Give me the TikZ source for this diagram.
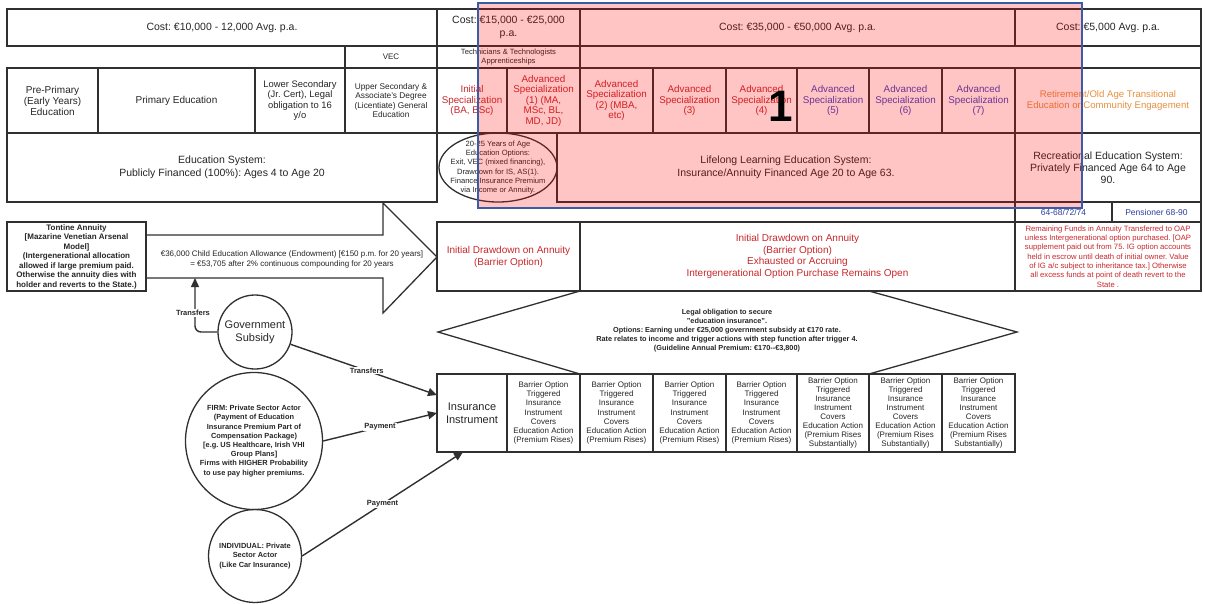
\documentclass[tikz,border=0pt]{standalone}
\usepackage{fontspec}
\setmainfont{Liberation Sans}
\frenchspacing
\usetikzlibrary{arrows.meta,shapes.geometric}
\definecolor{linec}{HTML}{303030}
\definecolor{txt}{HTML}{262626}
\definecolor{redt}{HTML}{C8282C}
\definecolor{purt}{HTML}{3F45C2}
\definecolor{orat}{HTML}{E8903E}
\definecolor{bluet}{HTML}{2C3E9E}
\definecolor{bluebox}{HTML}{3A5BA8}
\newcommand\fz[2]{\fontsize{#1}{#2}\selectfont}
\newcommand\cellbox[7][]{\node[box,minimum width={(#5-#3)*1pt},minimum height={(#6-#4)*1pt},#1] (#2) at ({(#3+#5)/2},{(#4+#6)/2}) {#7};}
\tikzset{
  box/.style={draw=linec, line width=1.3pt, inner sep=1pt, outer sep=0pt, align=center, font=\fz{10}{11}, text=txt},
  spec/.style={font=\fz{9.8}{10.5}, text=redt},
  specb/.style={font=\fz{9.8}{10.5}, text=purt},
  barr/.style={font=\fz{8}{9.1}},
  lbl/.style={fill=white, inner sep=1pt, font=\bfseries\fz{7.5}{9}, text=txt},
  conn/.style={draw=linec, line width=1.4pt, -{Triangle[length=9pt,width=8pt]}},
  ring/.style={circle, draw=linec, line width=1.3pt, inner sep=0pt},
  ctext/.style={align=center, text=txt},
}
\begin{document}
\begin{tikzpicture}[x=1pt,y=-1pt]
\useasboundingbox (0,0) rectangle (1205,603);
\fill[white] (0,0) rectangle (1205,603);
% row 0 : costs
\cellbox[font=\fz{10.5}{12}]{c1}{7}{9}{437}{46}{Cost: €10,000 - 12,000 Avg. p.a.}
\cellbox[font=\fz{10.5}{13}]{c2}{437}{9}{580}{46}{Cost: €15,000 - €25,000\\p.a.}
\cellbox[font=\fz{10.5}{12}]{c3}{580}{9}{1015}{46}{Cost: €35,000 - €50,000 Avg. p.a.}
\cellbox[font=\fz{10.5}{12}]{c4}{1015}{9}{1201}{46}{Cost: €5,000 Avg. p.a.}
% row 1
\cellbox[font=\fz{8}{9}]{vec}{345}{46}{437}{68}{VEC}
\cellbox[font=\fz{7.6}{8.6}]{tech}{437}{46}{580}{68}{Technicians \& Technologists\\Apprenticeships}
\cellbox{r1}{580}{46}{1201}{68}{}
% row 2
\cellbox{pre}{7}{68}{98}{133}{Pre-Primary\\(Early Years)\\Education}
\cellbox{prim}{98}{68}{255}{133}{Primary Education}
\cellbox[font=\fz{9.4}{10.2}]{lower}{255}{68}{345}{133}{Lower Secondary\\(Jr. Cert), Legal\\obligation to 16\\y/o}
\cellbox[font=\fz{8.3}{9.1}]{upper}{345}{68}{437}{133}{Upper Secondary \&\\Associate's Degree\\(Licentiate) General\\Education}
\cellbox[spec]{init}{437}{68}{507}{133}{Initial\\Specialization\\(BA, BSc)}
\cellbox[spec]{adv1}{507}{68}{580}{133}{Advanced\\Specialization\\(1) (MA,\\MSc, BL,\\MD, JD)}
\cellbox[spec]{adv2}{580}{68}{653}{133}{Advanced\\Specialization\\(2) (MBA,\\etc)}
\cellbox[spec]{adv3}{653}{68}{726}{133}{Advanced\\Specialization\\(3)}
\cellbox[spec]{adv4}{726}{68}{797}{133}{Advanced\\Specialization\\(4)}
\cellbox[specb]{adv5}{797}{68}{869}{133}{Advanced\\Specialization\\(5)}
\cellbox[specb]{adv6}{869}{68}{942}{133}{Advanced\\Specialization\\(6)}
\cellbox[specb]{adv7}{942}{68}{1015}{133}{Advanced\\Specialization\\(7)}
\cellbox[font=\fz{9.6}{11}, text=orat]{ret}{1015}{68}{1201}{133}{Retirement/Old Age Transitional\\Education or Community Engagement}
% row 3
\cellbox[font=\fz{10.5}{13}]{edu}{7}{133}{437}{202}{Education System:\\Publicly Financed (100\%): Ages 4 to Age 20}
\node[ellipse, draw=linec, line width=1.3pt, minimum width=118pt, minimum height=69pt, inner sep=0pt] (opt) at (498,167.5) {};
\node[ctext, font=\fz{7.6}{9.2}] (opttxt) at (opt.center) {20-25 Years of Age\\Education Options:\\Exit, VEC (mixed financing),\\Drawdown for IS, AS(1).\\Finance Insurance Premium\\via Income or Annuity.};
\cellbox[font=\fz{10.5}{13}]{life}{557}{133}{1015}{202}{Lifelong Learning Education System:\\Insurance/Annuity Financed Age 20 to Age 63.}
\cellbox[font=\fz{10.5}{12}]{rec}{1015}{133}{1201}{202}{Recreational Education System:\\Privately Financed Age 64 to Age\\90.}
\cellbox[font=\fz{8.5}{10}, text=bluet]{age1}{1015}{202}{1112}{222}{64-68/72/74}
\cellbox[font=\fz{8.5}{10}, text=bluet]{age2}{1112}{202}{1201}{222}{Pensioner 68-90}
% row 4
\cellbox[font=\fz{10}{12}, text=redt]{dr1}{437}{222}{580}{291}{Initial Drawdown on Annuity\\(Barrier Option)}
\cellbox[font=\fz{10}{11.5}, text=redt]{dr2}{580}{222}{1015}{291}{Initial Drawdown on Annuity\\(Barrier Option)\\Exhausted or Accruing\\Intergenerational Option Purchase Remains Open}
\cellbox[font=\fz{7.7}{9.3}, text=redt]{rem}{1015}{222}{1201}{291}{Remaining Funds in Annuity Transferred to OAP\\unless Intergenerational option purchased. {[}OAP\\supplement paid out from 75. IG option accounts\\held in escrow until death of initial owner. Value\\of IG a/c subject to inheritance tax.{]} Otherwise\\all excess funds at point of death revert to the\\State .}
% tontine + big arrow
\cellbox[font=\bfseries\fz{8}{9.5}]{ton}{7}{222}{146}{291}{Tontine Annuity\\{[}Mazarine Venetian Arsenal\\Model{]}\\(Intergenerational allocation\\allowed if large premium paid.\\Otherwise the annuity dies with\\holder and reverts to the State.)}
\draw[linec, line width=1.3pt, line join=miter] (146,235) -- (383,235) -- (383,203) -- (437,257) -- (383,313) -- (383,278) -- (146,278);
\node[ctext, font=\fz{8}{10}] (allow) at (292,259) {€36,000 Child Education Allowance (Endowment) {[}€150 p.m. for 20 years{]}\\= €53,705 after 2\% continuous compounding for 20 years};
\coordinate (armb) at (195,278);
% hexagon
\draw[linec, line width=1.3pt, line join=miter] (580,291) -- (438,332) -- (580,374) -- (869,374) -- (1017,332) -- (869,291);
\node[ctext, font=\bfseries\fz{7.3}{9}] (hex) at (727,331) {Legal obligation to secure\\"education insurance".\\Options: Earning under €25,000 government subsidy at €170 rate.\\Rate relates to income and trigger actions with step function after trigger 4.\\(Guideline Annual Premium: €170-{}-€3,800)};
% insurance table
\cellbox[font=\fz{11}{13}]{ins}{437}{374}{507}{452}{Insurance\\Instrument}
\cellbox[barr]{b1}{507}{374}{580}{452}{Barrier Option\\Triggered\\Insurance\\Instrument\\Covers\\Education Action\\(Premium Rises)}
\cellbox[barr]{b2}{580}{374}{653}{452}{Barrier Option\\Triggered\\Insurance\\Instrument\\Covers\\Education Action\\(Premium Rises)}
\cellbox[barr]{b3}{653}{374}{726}{452}{Barrier Option\\Triggered\\Insurance\\Instrument\\Covers\\Education Action\\(Premium Rises)}
\cellbox[barr]{b4}{726}{374}{797}{452}{Barrier Option\\Triggered\\Insurance\\Instrument\\Covers\\Education Action\\(Premium Rises)}
\cellbox[barr]{b5}{797}{374}{869}{452}{Barrier Option\\Triggered\\Insurance\\Instrument\\Covers\\Education Action\\(Premium Rises\\Substantially)}
\cellbox[barr]{b6}{869}{374}{942}{452}{Barrier Option\\Triggered\\Insurance\\Instrument\\Covers\\Education Action\\(Premium Rises\\Substantially)}
\cellbox[barr]{b7}{942}{374}{1015}{452}{Barrier Option\\Triggered\\Insurance\\Instrument\\Covers\\Education Action\\(Premium Rises\\Substantially)}
% actors
\node[ring, minimum size=74pt] (gov) at (255,332) {};
\node[ctext, font=\fz{11}{13}] (govtxt) at (gov.center) {Government\\Subsidy};
\node[ring, minimum size=137pt] (firm) at (254,441) {};
\node[ctext, font=\bfseries\fz{7.4}{9.2}] (firmtxt) at (firm.center) {FIRM: Private Sector Actor\\(Payment of Education\\Insurance Premium Part of\\Compensation Package)\\{[}e.g. US Healthcare, Irish VHI\\Group Plans{]}\\Firms with HIGHER Probability\\to use pay higher premiums.};
\node[ring, minimum size=93pt] (ind) at (255,556) {};
\node[ctext, font=\bfseries\fz{7.4}{9.2}] (indtxt) at (ind.center) {INDIVIDUAL: Private\\Sector Actor\\(Like Car Insurance)};
% connectors
\draw[conn, rounded corners=6pt] (gov.west) -| (armb);
\node[lbl] (lt1) at (193,313) {Transfers};
\draw[conn] (gov) -- node[lbl, pos=0.52] (lt2) {Transfers} ([yshift=18pt]ins.west);
\draw[conn] (firm.east) -- node[lbl, pos=0.5] (lp1) {Payment} (ins.west);
\draw[conn] (ind.east) -- node[lbl, pos=0.5] (lp2) {Payment} ([xshift=-9pt]ins.south);
% highlight overlay
\draw[fill=red, fill opacity=0.23, draw=bluebox, line width=1.5pt] (478,3) rectangle (1082,208);
\node[font=\bfseries\fontsize{44}{44}\selectfont, text=black] (one) at (781,106) {1};
\end{tikzpicture}
\end{document}
